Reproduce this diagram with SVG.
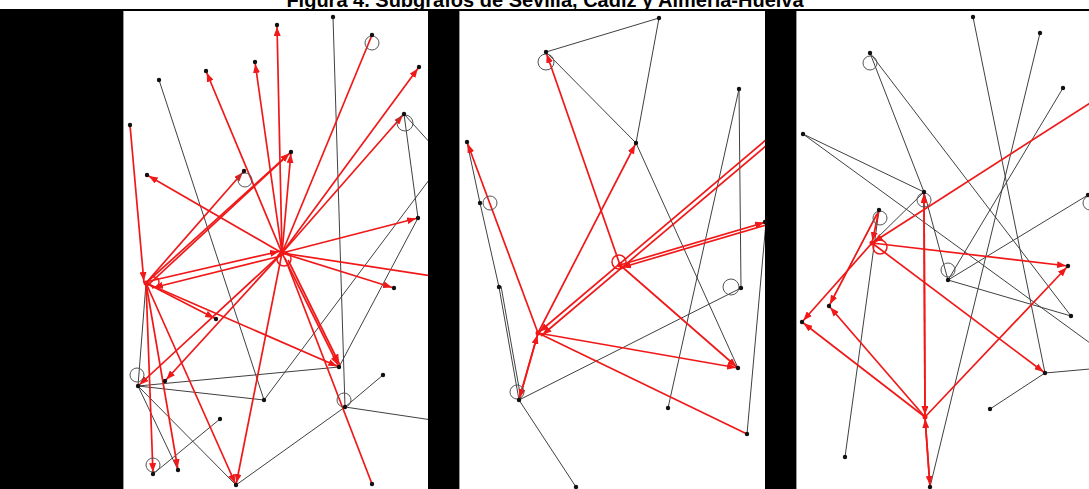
<svg xmlns="http://www.w3.org/2000/svg" width="1089" height="489" viewBox="0 0 1089 489">
<style>
.g{stroke:#404040;stroke-width:1;fill:none}
.r{stroke:#f01818;stroke-width:1.7;fill:none;marker-end:url(#a)}
.r0{stroke:#f01818;stroke-width:1.7;fill:none}
.n{fill:#111}
.l{fill:none;stroke:#555;stroke-width:1}
.lr{fill:none;stroke:#f01818;stroke-width:1.5}
.t{font-family:"Liberation Sans",Arial,sans-serif;font-weight:bold;font-size:20px;fill:#000}
</style>
<defs>
<marker id="a" markerUnits="userSpaceOnUse" markerWidth="9" markerHeight="7" refX="11" refY="3.5" orient="auto" viewBox="0 0 9 7"><path d="M0,0 L9,3.5 L0,7 z" fill="#f01818"/></marker>
<clipPath id="c1"><rect x="123" y="11" width="305" height="478"/></clipPath>
<clipPath id="c2"><rect x="459" y="11" width="306" height="478"/></clipPath>
<clipPath id="c3"><rect x="796" y="11" width="293" height="478"/></clipPath>
</defs>
<rect width="1089" height="489" fill="#fff"/>
<text class="t" x="545" y="7" text-anchor="middle">Figura 4. Subgrafos de Sevilla, Cádiz y Almería-Huelva</text>
<g id="frame">
<rect x="0" y="9" width="1089" height="2" fill="#000"/>
<rect x="0" y="11" width="123" height="478" fill="#000"/>
<rect x="428" y="11" width="31" height="478" fill="#000"/>
<rect x="765" y="11" width="31" height="478" fill="#000"/>
<line x1="123.5" y1="11" x2="123.5" y2="489" stroke="#999"/>
<line x1="459.5" y1="11" x2="459.5" y2="489" stroke="#999"/>
<line x1="796.5" y1="11" x2="796.5" y2="489" stroke="#999"/>
</g>
<g id="connectors">
<g clip-path="url(#c1)">
<line class="g" x1="159" y1="80" x2="264" y2="400"/>
<line class="g" x1="333" y1="17" x2="345" y2="407"/>
<line class="g" x1="404" y1="114" x2="418" y2="218"/>
<line class="g" x1="404" y1="114" x2="432" y2="145"/>
<line class="g" x1="432" y1="176" x2="264" y2="400"/>
<line class="g" x1="418" y1="218" x2="339" y2="367"/>
<line class="g" x1="138" y1="386" x2="339" y2="367"/>
<line class="g" x1="138" y1="386" x2="264" y2="400"/>
<line class="g" x1="138" y1="386" x2="236" y2="485"/>
<line class="g" x1="138" y1="386" x2="178" y2="470"/>
<line class="g" x1="138" y1="386" x2="146" y2="283"/>
<line class="g" x1="153" y1="474" x2="220" y2="419"/>
<line class="g" x1="236" y1="485" x2="345" y2="407"/>
<line class="g" x1="345" y1="407" x2="383" y2="375"/>
<line class="g" x1="345" y1="407" x2="432" y2="420"/>
<line class="r" x1="282" y1="253" x2="277" y2="25"/>
<line class="r" x1="282" y1="253" x2="255" y2="62"/>
<line class="r" x1="282" y1="253" x2="206" y2="71"/>
<line class="r" x1="282" y1="253" x2="291" y2="152"/>
<line class="r0" x1="282" y1="253" x2="372" y2="35"/>
<line class="r" x1="282" y1="253" x2="419" y2="67"/>
<line class="r" x1="282" y1="253" x2="404" y2="114"/>
<line class="r" x1="282" y1="253" x2="418" y2="218"/>
<line class="r0" x1="282" y1="253" x2="432" y2="276"/>
<line class="r" x1="282" y1="253" x2="394" y2="288"/>
<line class="r" x1="282" y1="253" x2="147" y2="175"/>
<line class="r" x1="282" y1="253" x2="138" y2="386"/>
<line class="r" x1="282" y1="253" x2="165" y2="381"/>
<line class="r" x1="282" y1="253" x2="236" y2="485"/>
<line class="r0" x1="285" y1="258" x2="372" y2="484"/>
<line class="r" x1="282" y1="253" x2="339" y2="367"/>
<line class="r" x1="288" y1="260" x2="340" y2="365"/>
<line class="r" x1="150" y1="281" x2="281" y2="251"/>
<line class="r" x1="281" y1="256" x2="152" y2="288"/>
<line class="r" x1="130" y1="125" x2="144" y2="283"/>
<line class="r" x1="146" y1="283" x2="244" y2="171"/>
<line class="r" x1="146" y1="283" x2="291" y2="152"/>
<line class="r0" x1="146" y1="287" x2="287" y2="156"/>
<line class="r" x1="146" y1="283" x2="216" y2="319"/>
<line class="r" x1="146" y1="283" x2="339" y2="367"/>
<line class="r" x1="146" y1="283" x2="153" y2="474"/>
<line class="r" x1="146" y1="283" x2="178" y2="470"/>
<line class="r" x1="146" y1="283" x2="236" y2="485"/>
</g>
<g clip-path="url(#c2)">
<line class="g" x1="546" y1="52" x2="659" y2="18"/>
<line class="g" x1="546" y1="52" x2="636" y2="143"/>
<line class="g" x1="659" y1="18" x2="636" y2="143"/>
<line class="g" x1="636" y1="143" x2="738" y2="368"/>
<line class="g" x1="739" y1="89" x2="668" y2="408"/>
<line class="g" x1="739" y1="89" x2="741" y2="288"/>
<line class="g" x1="467" y1="142" x2="480" y2="203"/>
<line class="g" x1="480" y1="203" x2="499" y2="287"/>
<line class="g" x1="499" y1="287" x2="519" y2="400"/>
<line class="g" x1="501" y1="286" x2="521" y2="399"/>
<line class="g" x1="519" y1="400" x2="741" y2="288"/>
<line class="g" x1="519" y1="400" x2="576" y2="487"/>
<line class="g" x1="747" y1="434" x2="766" y2="222"/>
<line class="r" x1="620" y1="265" x2="546" y2="52"/>
<line class="r" x1="538" y1="333" x2="636" y2="143"/>
<line class="r" x1="538" y1="333" x2="467" y2="142"/>
<line class="r" x1="767" y1="139" x2="538" y2="333"/>
<line class="r" x1="767" y1="145" x2="541" y2="336"/>
<line class="r" x1="620" y1="265" x2="766" y2="222"/>
<line class="r" x1="766" y1="225" x2="620" y2="268"/>
<line class="r" x1="620" y1="265" x2="738" y2="368"/>
<line class="r" x1="538" y1="333" x2="738" y2="368"/>
<line class="r0" x1="538" y1="333" x2="747" y2="434"/>
<line class="r" x1="538" y1="333" x2="519" y2="400"/>
<line class="r" x1="519" y1="400" x2="538" y2="333"/>
</g>
<g clip-path="url(#c3)">
<line class="g" x1="973" y1="17" x2="1045" y2="373"/>
<line class="g" x1="1040" y1="33" x2="930" y2="487"/>
<line class="g" x1="870" y1="53" x2="924" y2="192"/>
<line class="g" x1="870" y1="53" x2="1071" y2="316"/>
<line class="g" x1="1063" y1="88" x2="948" y2="280"/>
<line class="g" x1="803" y1="134" x2="924" y2="192"/>
<line class="g" x1="803" y1="134" x2="1090" y2="343"/>
<line class="g" x1="872" y1="243" x2="924" y2="192"/>
<line class="g" x1="924" y1="192" x2="948" y2="280"/>
<line class="g" x1="948" y1="280" x2="1071" y2="316"/>
<line class="g" x1="948" y1="280" x2="1088" y2="195"/>
<line class="g" x1="879" y1="210" x2="845" y2="457"/>
<line class="g" x1="879" y1="210" x2="829" y2="306"/>
<line class="g" x1="1045" y1="373" x2="990" y2="409"/>
<line class="g" x1="1045" y1="373" x2="1090" y2="369"/>
<line class="r" x1="1090" y1="103" x2="872" y2="243"/>
<line class="r" x1="872" y1="243" x2="1068" y2="266"/>
<line class="r" x1="872" y1="243" x2="1045" y2="373"/>
<line class="r" x1="872" y1="243" x2="802" y2="322"/>
<line class="r" x1="879" y1="210" x2="872" y2="243"/>
<line class="r" x1="877" y1="214" x2="829" y2="306"/>
<line class="r" x1="925" y1="417" x2="802" y2="322"/>
<line class="r" x1="925" y1="417" x2="829" y2="306"/>
<line class="r" x1="925" y1="417" x2="1068" y2="266"/>
<line class="r" x1="925" y1="417" x2="924" y2="192"/>
<line class="r" x1="924" y1="192" x2="925" y2="417"/>
<line class="r" x1="925" y1="417" x2="930" y2="487"/>
<line class="r" x1="930" y1="487" x2="925" y2="417"/>
</g>
</g>
<g id="nodes">
<g id="p1-n1"><circle class="n" cx="277" cy="25" r="2.2"/></g>
<g id="p1-n2"><circle class="n" cx="255" cy="62" r="2.2"/></g>
<g id="p1-n3"><circle class="n" cx="206" cy="71" r="2.2"/></g>
<g id="p1-n4"><circle class="n" cx="159" cy="80" r="2.2"/></g>
<g id="p1-n5"><circle class="n" cx="130" cy="125" r="2.2"/></g>
<g id="p1-n6"><circle class="n" cx="333" cy="17" r="2.2"/></g>
<g id="p1-n7"><circle class="l" cx="372" cy="43" r="7"/><circle class="n" cx="372" cy="35" r="2.2"/></g>
<g id="p1-n8"><circle class="n" cx="419" cy="67" r="2.2"/></g>
<g id="p1-n9"><circle class="l" cx="405" cy="123" r="8"/><circle class="n" cx="404" cy="114" r="2.2"/></g>
<g id="p1-n10"><circle class="n" cx="291" cy="152" r="2.2"/></g>
<g id="p1-n11"><circle class="n" cx="147" cy="175" r="2.2"/></g>
<g id="p1-n12"><circle class="l" cx="245" cy="180" r="7"/><circle class="n" cx="244" cy="171" r="2.2"/></g>
<g id="p1-n13"><circle class="n" cx="418" cy="218" r="2.2"/></g>
<g id="p1-hubA"><circle class="lr" cx="154" cy="282" r="5"/><circle cx="146" cy="283" r="2.5" fill="#f01818"/></g>
<g id="p1-hubB"><circle class="lr" cx="284" cy="259" r="7"/><circle cx="282" cy="253" r="2.5" fill="#f01818"/></g>
<g id="p1-n14"><circle class="n" cx="394" cy="288" r="2.2"/></g>
<g id="p1-n15"><circle class="n" cx="216" cy="319" r="2.2"/></g>
<g id="p1-n16"><circle class="n" cx="339" cy="367" r="2.2"/></g>
<g id="p1-n17"><circle class="l" cx="137" cy="375" r="7"/><circle class="n" cx="138" cy="386" r="2.2"/></g>
<g id="p1-n18"><circle class="n" cx="165" cy="381" r="2.2"/></g>
<g id="p1-n19"><circle class="n" cx="264" cy="400" r="2.2"/></g>
<g id="p1-n20"><circle class="n" cx="383" cy="375" r="2.2"/></g>
<g id="p1-n21"><circle class="l" cx="344" cy="400" r="7"/><circle class="n" cx="345" cy="407" r="2.2"/></g>
<g id="p1-n22"><circle class="n" cx="220" cy="419" r="2.2"/></g>
<g id="p1-n23"><circle class="l" cx="153" cy="465" r="7"/><circle class="n" cx="153" cy="474" r="2.2"/></g>
<g id="p1-n24"><circle class="n" cx="178" cy="470" r="2.2"/></g>
<g id="p1-n25"><circle class="n" cx="236" cy="485" r="2.2"/></g>
<g id="p1-n26"><circle class="n" cx="372" cy="484" r="2.2"/></g>
<g id="p2-n1"><circle class="l" cx="546" cy="62" r="8"/><circle class="n" cx="546" cy="52" r="2.2"/></g>
<g id="p2-n2"><circle class="n" cx="659" cy="18" r="2.2"/></g>
<g id="p2-n3"><circle class="n" cx="636" cy="143" r="2.2"/></g>
<g id="p2-n4"><circle class="n" cx="739" cy="89" r="2.2"/></g>
<g id="p2-n5"><circle class="n" cx="467" cy="142" r="2.2"/></g>
<g id="p2-n6"><circle class="l" cx="490" cy="203" r="7"/><circle class="n" cx="480" cy="203" r="2.2"/></g>
<g id="p2-hubD"><circle class="lr" cx="619" cy="262" r="7"/><circle cx="620" cy="265" r="2.5" fill="#f01818"/></g>
<g id="p2-n7"><circle class="n" cx="765" cy="222" r="2.2"/></g>
<g id="p2-n8"><circle class="l" cx="731" cy="287" r="8"/><circle class="n" cx="741" cy="288" r="2.2"/></g>
<g id="p2-hubC"><circle cx="538" cy="333" r="2.5" fill="#f01818"/></g>
<g id="p2-n9"><circle class="n" cx="499" cy="287" r="2.2"/></g>
<g id="p2-n10"><circle class="n" cx="738" cy="368" r="2.2"/></g>
<g id="p2-hubE"><circle class="l" cx="517" cy="392" r="7"/><circle class="n" cx="519" cy="400" r="2.2"/></g>
<g id="p2-n12"><circle class="n" cx="668" cy="408" r="2.2"/></g>
<g id="p2-n13"><circle class="n" cx="747" cy="434" r="2.2"/></g>
<g id="p2-n14"><circle class="n" cx="576" cy="487" r="2.2"/></g>
<g id="p3-n1"><circle class="n" cx="973" cy="17" r="2.2"/></g>
<g id="p3-n2"><circle class="n" cx="1040" cy="33" r="2.2"/></g>
<g id="p3-n3"><circle class="l" cx="870" cy="63" r="7"/><circle class="n" cx="870" cy="53" r="2.2"/></g>
<g id="p3-n4"><circle class="n" cx="1063" cy="88" r="2.2"/></g>
<g id="p3-n5"><circle class="n" cx="803" cy="134" r="2.2"/></g>
<g id="p3-n6"><circle class="l" cx="924" cy="200" r="7"/><circle class="n" cx="924" cy="192" r="2.2"/></g>
<g id="p3-n7"><circle class="l" cx="1090" cy="203" r="7"/><circle class="n" cx="1088" cy="195" r="2.2"/></g>
<g id="p3-n8"><circle class="l" cx="880" cy="218" r="7"/><circle class="n" cx="879" cy="210" r="2.2"/></g>
<g id="p3-hubF"><circle class="lr" cx="880" cy="247" r="7"/><circle cx="872" cy="243" r="2.5" fill="#f01818"/></g>
<g id="p3-n9"><circle class="l" cx="948" cy="270" r="7"/><circle class="n" cx="948" cy="280" r="2.2"/></g>
<g id="p3-n10"><circle class="n" cx="1068" cy="266" r="2.2"/></g>
<g id="p3-n11"><circle class="n" cx="829" cy="306" r="2.2"/></g>
<g id="p3-n12"><circle class="n" cx="802" cy="322" r="2.2"/></g>
<g id="p3-n13"><circle class="n" cx="1071" cy="316" r="2.2"/></g>
<g id="p3-n14"><circle class="n" cx="1045" cy="373" r="2.2"/></g>
<g id="p3-n15"><circle class="n" cx="990" cy="409" r="2.2"/></g>
<g id="p3-hubG"><circle cx="925" cy="417" r="2.5" fill="#f01818"/></g>
<g id="p3-n16"><circle class="n" cx="845" cy="457" r="2.2"/></g>
<g id="p3-n17"><circle class="n" cx="930" cy="487" r="2.2"/></g>
</g>
</svg>
